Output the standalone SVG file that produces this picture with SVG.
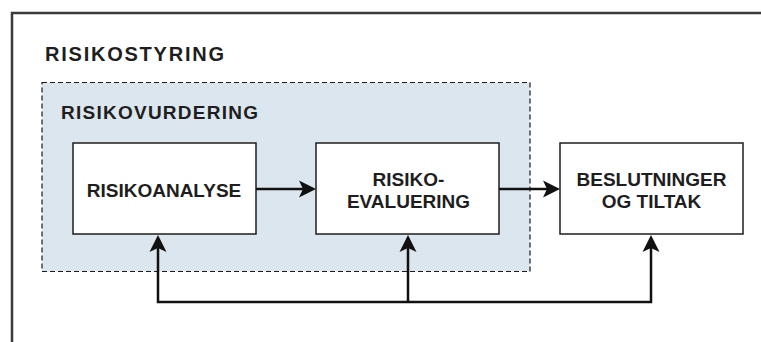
<svg xmlns="http://www.w3.org/2000/svg" width="761" height="342" viewBox="0 0 761 342">
  <style>
    .frame { fill: #ffffff; stroke: #3a3a3a; stroke-width: 2.5; }
    .group { fill: #dce6ee; stroke: #1a1a1a; stroke-width: 1.2; stroke-dasharray: 5 3; }
    .box { fill: #ffffff; stroke: #1e1e1e; stroke-width: 1.5; }
    .title { font-family: "Liberation Sans", Arial, sans-serif; font-weight: bold; fill: #1e1e1e; }
    .label { font-family: "Liberation Sans", Arial, sans-serif; font-weight: bold; font-size: 19px; fill: #1e1e1e; text-anchor: middle; }
    .edge { fill: none; stroke: #111111; stroke-width: 2.5; }
  </style>
  <defs>
    <marker id="arrow" markerUnits="userSpaceOnUse" markerWidth="18" markerHeight="18" viewBox="0 0 18 18" refX="13" refY="9" orient="auto">
      <path d="M0,0.5 L17,9 L0,17.5 L4,9 Z" fill="#111111"/>
    </marker>
  </defs>

  <!-- outer frame: risk management -->
  <g id="risikostyring">
    <rect class="frame" x="12" y="13" width="800" height="400"/>
    <text class="title" x="45" y="61" font-size="20" textLength="179" lengthAdjust="spacing">RISIKOSTYRING</text>
  </g>

  <!-- dashed group: risk assessment -->
  <g id="risikovurdering">
    <rect class="group" x="42" y="82.5" width="488" height="189"/>
    <text class="title" x="61" y="119" font-size="19" textLength="197" lengthAdjust="spacing">RISIKOVURDERING</text>
  </g>

  <g id="risikoanalyse">
    <rect class="box" x="73" y="143" width="183" height="91"/>
    <text class="label" x="164" y="197">RISIKOANALYSE</text>
  </g>

  <g id="risikoevaluering">
    <rect class="box" x="316" y="143" width="183" height="91"/>
    <text class="label" x="408.5" y="186">RISIKO-</text>
    <text class="label" x="408.5" y="207.5">EVALUERING</text>
  </g>

  <g id="beslutninger">
    <rect class="box" x="560" y="143" width="183" height="91"/>
    <text class="label" x="651.5" y="186">BESLUTNINGER</text>
    <text class="label" x="651.5" y="207.5">OG TILTAK</text>
  </g>

  <!-- connectors -->
  <g id="connectors">
    <path class="edge" d="M256,189 H312" marker-end="url(#arrow)"/>
    <path class="edge" d="M499,189 H556" marker-end="url(#arrow)"/>
    <path class="edge" d="M408,302 H158 V239" marker-end="url(#arrow)"/>
    <path class="edge" d="M408,302 V239" marker-end="url(#arrow)"/>
    <path class="edge" d="M408,302 H651 V239" marker-end="url(#arrow)"/>
  </g>
</svg>
